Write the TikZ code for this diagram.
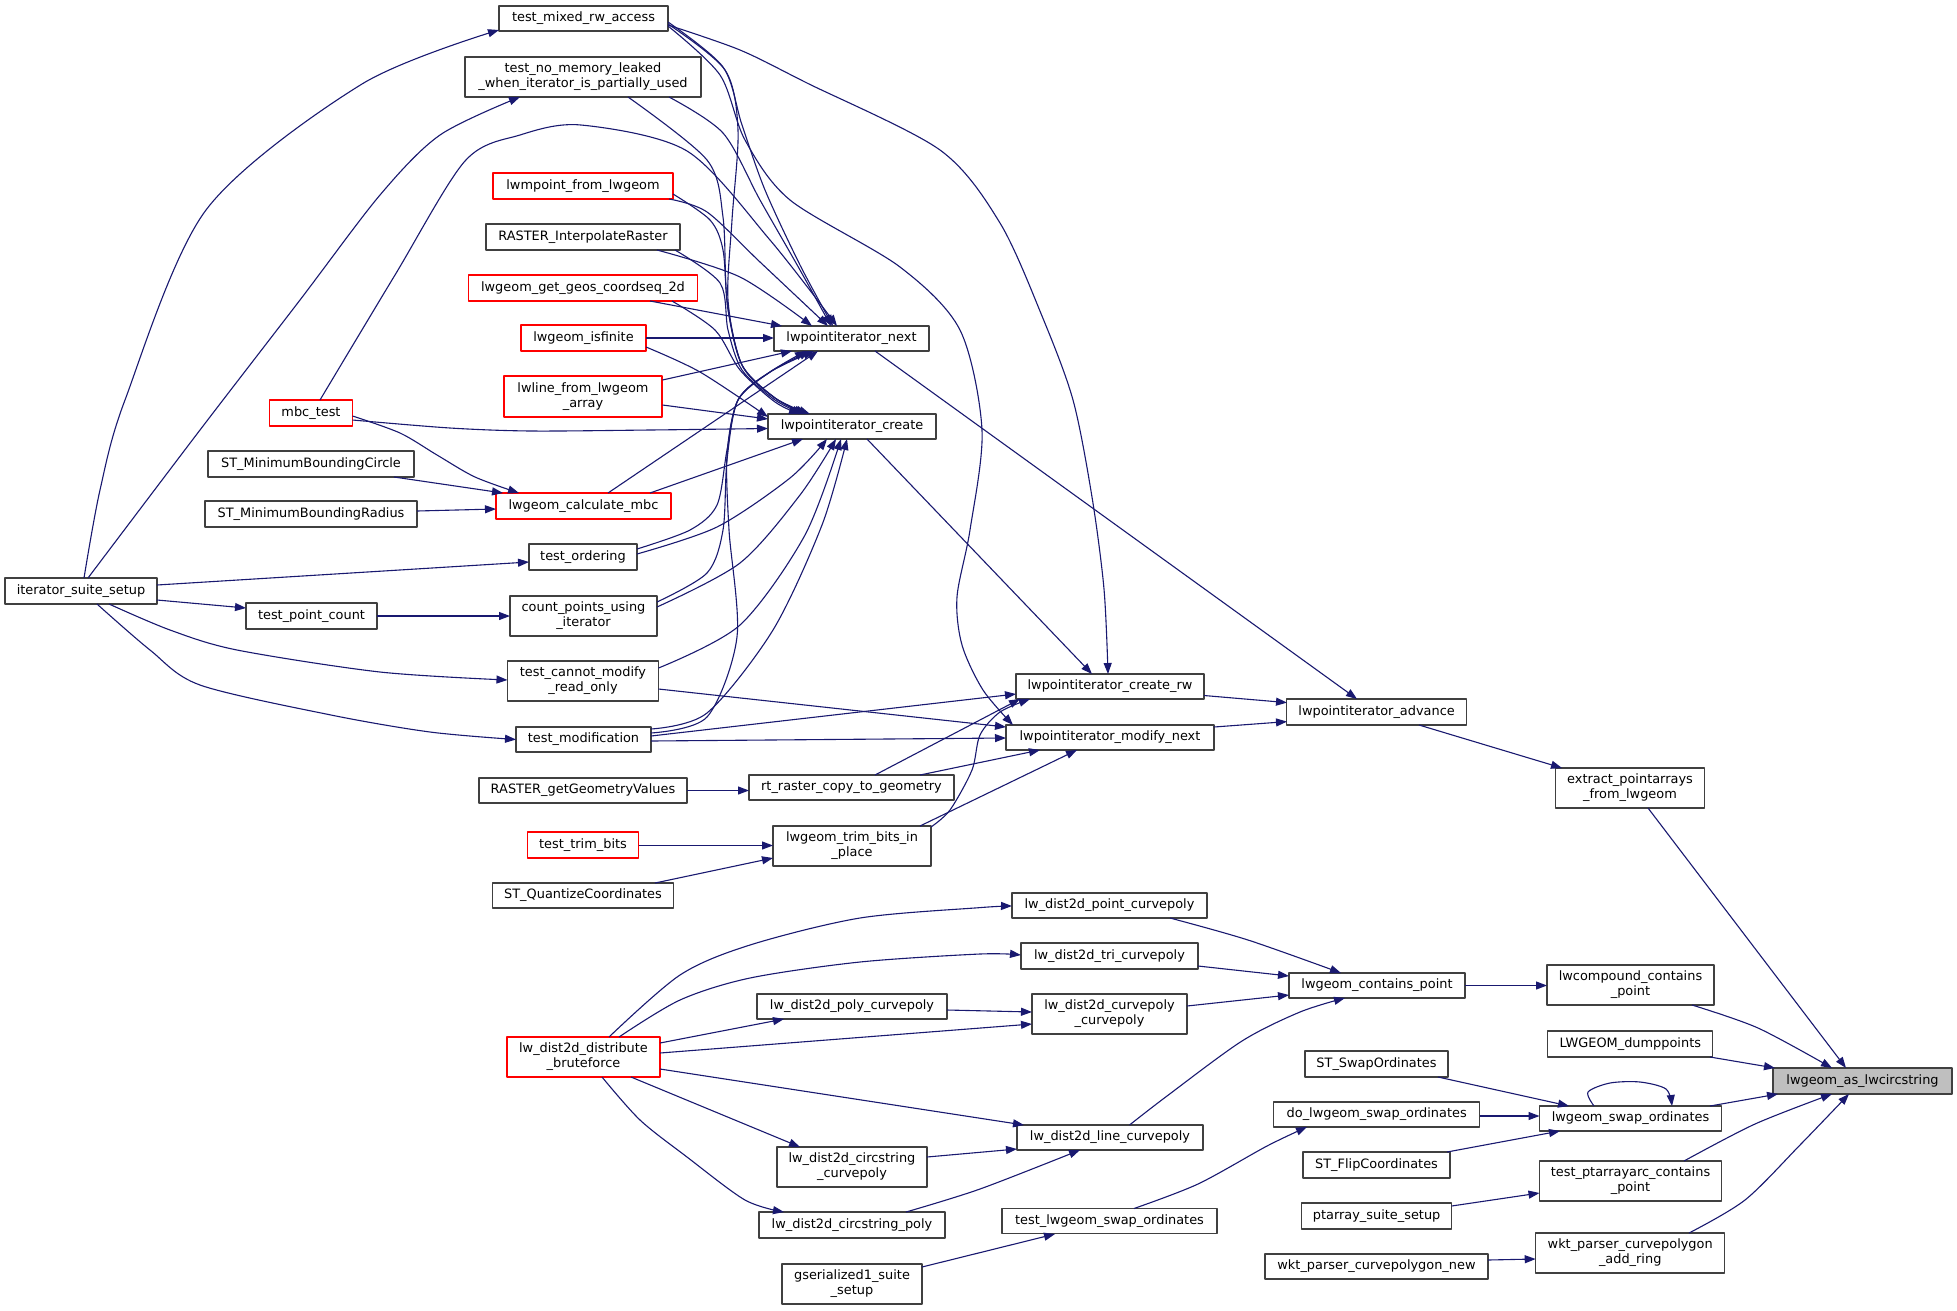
\documentclass[tikz,border=0pt]{standalone}
\usepackage{fontspec}
\setmainfont{DejaVu Sans}
\usetikzlibrary{arrows.meta,calc}
\definecolor{edgec}{HTML}{191970}
\definecolor{nbord}{HTML}{404040}
\definecolor{rootfill}{HTML}{BFBFBF}
\begin{document}
\begin{tikzpicture}[x=1pt,y=-1pt,line join=round,
  nd/.style={draw=nbord,line width=1.2pt,fill=white,inner sep=0pt,align=center,
    font=\fontsize{12.9}{15}\selectfont,text=black},
  rd/.style={nd,draw=red},
  sz/.style 2 args={minimum width=#1pt,minimum height=#2pt},
  e/.style={draw=edgec,line width=1.1pt,-{Triangle[length=11pt,width=8pt]}}]
\useasboundingbox[fill=white] (0,0) rectangle (1957,1310);
% column 3
\node[nd,sz={169}{25}] (tmrw) at (583.5,18.5) {test\_mixed\_rw\_access};
\node[nd,sz={236}{40}] (tnml) at (583,77) {test\_no\_memory\_leaked\\\_when\_iterator\_is\_partially\_used};
\node[rd,sz={180}{26}] (lwmp) at (583,186) {lwmpoint\_from\_lwgeom};
\node[nd,sz={194}{26}] (rir) at (583,237) {RASTER\_InterpolateRaster};
\node[rd,sz={229}{26}] (ggc) at (583,288) {lwgeom\_get\_geos\_coordseq\_2d};
\node[rd,sz={125}{26}] (isf) at (583.5,338) {lwgeom\_isfinite};
\node[rd,sz={158}{41}] (lfla) at (583,396.5) {lwline\_from\_lwgeom\\\_array};
\node[rd,sz={175}{26}] (lcm) at (583.5,506) {lwgeom\_calculate\_mbc};
\node[nd,sz={108}{26}] (tord) at (583,557) {test\_ordering};
\node[nd,sz={147}{40}] (cpi) at (583.5,616) {count\_points\_using\\\_iterator};
\node[nd,sz={151}{40}] (tcm) at (583,681) {test\_cannot\_modify\\\_read\_only};
\node[nd,sz={135}{25}] (tmod) at (583.5,739.5) {test\_modification};
\node[nd,sz={208}{25}] (rggv) at (583,790.5) {RASTER\_getGeometryValues};
\node[rd,sz={111}{26}] (ttb) at (583,845) {test\_trim\_bits};
\node[nd,sz={181}{25}] (sqc) at (583,895.5) {ST\_QuantizeCoordinates};
\node[rd,sz={153}{40}] (dbf) at (583.5,1057) {lw\_dist2d\_distribute\\\_bruteforce};
% columns 1-2
\node[nd,sz={152}{26}] (iss) at (81,591) {iterator\_suite\_setup};
\node[rd,sz={83}{26}] (mbct) at (311,413) {mbc\_test};
\node[nd,sz={206}{26}] (smbc) at (311,464) {ST\_MinimumBoundingCircle};
\node[nd,sz={212}{26}] (smbr) at (311,514) {ST\_MinimumBoundingRadius};
\node[nd,sz={131}{26}] (tpc) at (311.5,616) {test\_point\_count};
% column 4
\node[nd,sz={155}{25}] (N) at (851.5,338.5) {lwpointiterator\_next};
\node[nd,sz={168}{25}] (C) at (852,426.5) {lwpointiterator\_create};
\node[nd,sz={205}{25}] (rrcg) at (851.5,787.5) {rt\_raster\_copy\_to\_geometry};
\node[nd,sz={158}{40}] (ltb) at (852,846) {lwgeom\_trim\_bits\_in\\\_place};
\node[nd,sz={190}{25}] (dpcp) at (852,1006.5) {lw\_dist2d\_poly\_curvepoly};
\node[nd,sz={150}{40}] (dccp) at (852,1167) {lw\_dist2d\_circstring\\\_curvepoly};
\node[nd,sz={186}{26}] (dcp) at (852,1225) {lw\_dist2d\_circstring\_poly};
\node[nd,sz={140}{40}] (gss) at (852,1284) {gserialized1\_suite\\\_setup};
% column 5
\node[nd,sz={188}{25}] (W) at (1110,686.5) {lwpointiterator\_create\_rw};
\node[nd,sz={208}{25}] (M) at (1110,737.5) {lwpointiterator\_modify\_next};
\node[nd,sz={195}{25}] (dpc) at (1109.5,905.5) {lw\_dist2d\_point\_curvepoly};
\node[nd,sz={177}{26}] (dtc) at (1109.5,956) {lw\_dist2d\_tri\_curvepoly};
\node[nd,sz={155}{40}] (dcc) at (1109.5,1014) {lw\_dist2d\_curvepoly\\\_curvepoly};
\node[nd,sz={186}{25}] (dlc) at (1110,1137.5) {lw\_dist2d\_line\_curvepoly};
\node[nd,sz={215}{25}] (tlso) at (1109.5,1221) {test\_lwgeom\_swap\_ordinates};
% column 6
\node[nd,sz={180}{26}] (A) at (1376.6,712) {lwpointiterator\_advance};
\node[nd,sz={176}{25}] (gcp) at (1377,985.5) {lwgeom\_contains\_point};
\node[nd,sz={143}{26}] (sso) at (1376.5,1064) {ST\_SwapOrdinates};
\node[nd,sz={206}{25}] (dlso) at (1376.7,1114.5) {do\_lwgeom\_swap\_ordinates};
\node[nd,sz={147}{26}] (sfc) at (1376.5,1165) {ST\_FlipCoordinates};
\node[nd,sz={150}{26}] (pss) at (1376.6,1216) {ptarray\_suite\_setup};
\node[nd,sz={223}{25}] (wkn) at (1376.5,1266.5) {wkt\_parser\_curvepolygon\_new};
% column 7
\node[nd,sz={149}{40}] (epa) at (1630,788) {extract\_pointarrays\\\_from\_lwgeom};
\node[nd,sz={167}{40}] (lccp) at (1630.5,985) {lwcompound\_contains\\\_point};
\node[nd,sz={165}{26}] (ldp) at (1630.3,1044) {LWGEOM\_dumppoints};
\node[nd,sz={182}{25}] (S) at (1630.5,1118.5) {lwgeom\_swap\_ordinates};
\node[nd,sz={182}{40}] (tpac) at (1630.5,1181) {test\_ptarrayarc\_contains\\\_point};
\node[nd,sz={189}{40}] (wka) at (1630.2,1253) {wkt\_parser\_curvepolygon\\\_add\_ring};
% root
\node[nd,fill=rootfill,sz={179}{26}] (R) at (1862.5,1081) {lwgeom\_as\_lwcircstring};

% ---- edges: iterator_suite_setup
\draw[e] plot[smooth] coordinates {($(iss)+(3,-13)$) (100,490) (125,400) (206,210) (362,84) ($(tmrw)+(-84.5,11.5)$)};
\draw[e] plot[smooth] coordinates {($(iss)+(7,-13)$) (200,430) (300,300) (380,195) (440,135) ($(tnml)+(-63,20)$)};
\draw[e] ($(iss)+(76,-6)$) -- ($(tord)+(-54,5)$);
\draw[e] ($(iss)+(76,9)$) -- ($(tpc)+(-65.5,-8)$);
\draw[e] plot[smooth] coordinates {($(iss)+(28,13)$) (170,630) (237,650) (380,672) ($(tcm)+(-75.5,-1)$)};
\draw[e] plot[smooth] coordinates {($(iss)+(16,13)$) (150,650) (200,685) (331,715) (430,732) ($(tmod)+(-67.5,0)$)};
\draw[e] ($(tpc)+(65.5,0)$) -- ($(cpi)+(-73.5,0)$);
\draw[e] ($(smbc)+(83,13)$) -- ($(lcm)+(-80.5,-13)$);
\draw[e] ($(smbr)+(106,-3)$) -- ($(lcm)+(-87.5,3)$);
% mbc_test
\draw[e] plot[smooth] coordinates {($(mbct)+(41.5,3)$) (400,433) (437,455) (475,477) ($(lcm)+(-64.5,-13)$)};
\draw[e] plot[smooth] coordinates {($(mbct)+(41.5,7)$) (450,428) (531,431) (650,430) ($(C)+(-84,2)$)};
\draw[e] plot[smooth] coordinates {($(mbct)+(9,-13)$) (395,275) (465,161) (520,135) (581,125) (687,151) (770,240) ($(N)+(-14.5,-12.5)$)};
% test_mixed_rw_access
\draw[e] plot[smooth] coordinates {($(tmrw)+(84.5,3.5)$) (723,67) (742,125) (765,190) (800,265) ($(N)+(-18.5,-12.5)$)};
\draw[e] plot[smooth] coordinates {($(tmrw)+(84.5,5.5)$) (725,70) (738,130) (732,220) (728,300) (742,365) (775,398) ($(C)+(-42,-12.5)$)};
\draw[e] plot[smooth] coordinates {($(tmrw)+(84.5,7.5)$) (720,75) (745,140) (790,200) (900,267) (960,330) (982,430) (970,530) (957,597) (962,645) (983,690) ($(M)+(-97,-12.5)$)};
\draw[e] plot[smooth] coordinates {($(tmrw)+(84.5,6.5)$) (740,50) (807,83) (940,150) (1000,223) (1042,316) (1073,400) (1092,497) (1104,589) ($(W)+(-2,-12.5)$)};
% test_no_memory_leaked
\draw[e] plot[smooth] coordinates {($(tnml)+(86,20)$) (723,133) (760,200) (800,270) ($(N)+(-20.5,-12.5)$)};
\draw[e] plot[smooth] coordinates {($(tnml)+(45,20)$) (707,160) (723,217) (727,300) (742,365) (775,398) ($(C)+(-45,-12.5)$)};
% lwmpoint_from_lwgeom
\draw[e] plot[smooth] coordinates {($(lwmp)+(86,13)$) (707,212) (760,262) ($(N)+(-23.5,-12.5)$)};
\draw[e] plot[smooth] coordinates {($(lwmp)+(90,8)$) (710,220) (723,250) (728,310) (742,365) (775,398) ($(C)+(-47,-12.5)$)};
% RASTER_InterpolateRaster
\draw[e] plot[smooth] coordinates {($(rir)+(74,13)$) (740,277) ($(N)+(-39.5,-12.5)$)};
\draw[e] plot[smooth] coordinates {($(rir)+(92,13)$) (720,283) (728,330) (742,370) (775,400) ($(C)+(-49,-12.5)$)};
% lwgeom_get_geos_coordseq_2d
\draw[e] ($(ggc)+(67,13)$) -- ($(N)+(-69.5,-12.5)$);
\draw[e] plot[smooth] coordinates {($(ggc)+(89,13)$) (715,330) (740,370) (775,402) ($(C)+(-52,-12.5)$)};
% lwgeom_isfinite
\draw[e] ($(isf)+(62.5,0)$) -- ($(N)+(-77.5,-0.5)$);
\draw[e] plot[smooth] coordinates {($(isf)+(62.5,9)$) (700,372) ($(C)+(-84,-9.5)$)};
% lwline_from_lwgeom_array
\draw[e] ($(lfla)+(79.5,-16.5)$) -- ($(N)+(-59.5,12.5)$);
\draw[e] ($(lfla)+(79.5,8.5)$) -- ($(C)+(-84,-7.5)$);
% lwgeom_calculate_mbc
\draw[e] ($(lcm)+(24.5,-13)$) -- ($(N)+(-33.5,12.5)$);
\draw[e] ($(lcm)+(66.5,-13)$) -- ($(C)+(-49,12.5)$);
% test_ordering
\draw[e] plot[smooth] coordinates {($(tord)+(54,-8)$) (690,530) (717,505) (727,450) (738,400) (770,372) ($(N)+(-45.5,12.5)$)};
\draw[e] plot[smooth] coordinates {($(tord)+(54,-3)$) (717,527) (790,478) ($(C)+(-25,12.5)$)};
% count_points_using_iterator
\draw[e] plot[smooth] coordinates {($(cpi)+(73.5,-14)$) (707,573) (723,530) (727,460) (738,400) (770,372) ($(N)+(-41.5,12.5)$)};
\draw[e] plot[smooth] coordinates {($(cpi)+(73.5,-9)$) (740,563) (800,495) ($(C)+(-16,12.5)$)};
% test_cannot_modify_read_only
\draw[e] plot[smooth] coordinates {($(tcm)+(75.5,-13)$) (740,625) (805,535) ($(C)+(-11,12.5)$)};
\draw[e] ($(tcm)+(75.5,8)$) -- ($(M)+(-104,-10.5)$);
% test_modification
\draw[e] plot[smooth] coordinates {($(tmod)+(67.5,-10.5)$) (707,713) (773,630) (822,525) ($(C)+(-5,12.5)$)};
\draw[e] plot[smooth] coordinates {($(tmod)+(67.5,-6.5)$) (707,717) (737,637) (729,530) (727,455) (738,400) (770,372) ($(N)+(-37.5,12.5)$)};
\draw[e] ($(tmod)+(67.5,-3.5)$) -- ($(W)+(-94,7.5)$);
\draw[e] ($(tmod)+(67.5,1.5)$) -- ($(M)+(-104,0.5)$);
% raster, trim bits
\draw[e] ($(rggv)+(104,0)$) -- ($(rrcg)+(-102.5,3)$);
\draw[e] ($(rrcg)+(23.5,-12.5)$) -- ($(W)+(-90,12.5)$);
\draw[e] ($(rrcg)+(68.5,-12.5)$) -- ($(M)+(-70,12.5)$);
\draw[e] ($(ttb)+(55.5,0.5)$) -- ($(ltb)+(-79,-0.5)$);
\draw[e] ($(sqc)+(72,-12.5)$) -- ($(ltb)+(-79,12)$);
\draw[e] plot[smooth] coordinates {($(ltb)+(79,-19)$) (950,810) (972,770) (980,735) (1000,712) ($(W)+(-80,12.5)$)};
\draw[e] ($(ltb)+(68,-20)$) -- ($(M)+(-33,12.5)$);
% iterator core
\draw[e] ($(C)+(15,12.5)$) -- ($(W)+(-18,-12.5)$);
\draw[e] ($(N)+(23.5,12.5)$) -- ($(A)+(-19.6,-13)$);
\draw[e] ($(W)+(94,9)$) -- ($(A)+(-89.6,-9.4)$);
\draw[e] ($(M)+(104,-10.5)$) -- ($(A)+(-89.6,9.6)$);
\draw[e] ($(A)+(42.4,13)$) -- ($(epa)+(-68,-20)$);
% into root
\draw[e] ($(epa)+(18,20)$) -- ($(R)+(-16.5,-13)$);
\draw[e] plot[smooth] coordinates {($(lccp)+(61.5,20)$) (1758,1028) ($(R)+(-30.5,-13)$)};
\draw[e] ($(ldp)+(79.7,13)$) -- ($(R)+(-87.5,-13)$);
\draw[e] ($(S)+(79.5,-12.5)$) -- ($(R)+(-84.5,13)$);
\draw[e] plot[smooth] coordinates {($(tpac)+(53.5,-20)$) (1755,1124) ($(R)+(-30.5,13)$)};
\draw[e] plot[smooth] coordinates {($(wka)+(58.8,-20)$) (1745,1200) (1800,1145) ($(R)+(-13.5,13)$)};
% swap ordinates
\draw[e] plot[smooth] coordinates {($(S)+(-36.5,-12.5)$) (1588,1092) (1610,1083) (1640,1082) (1666,1089) ($(S)+(41.5,-12.5)$)};
\draw[e] ($(sso)+(61.5,13)$) -- ($(S)+(-61.5,-12.5)$);
\draw[e] ($(dlso)+(103.3,1.5)$) -- ($(S)+(-91,-2.5)$);
\draw[e] ($(sfc)+(70.5,-13)$) -- ($(S)+(-70.5,12.5)$);
\draw[e] ($(pss)+(75,-10)$) -- ($(tpac)+(-91,12)$);
\draw[e] ($(wkn)+(111.5,-6.5)$) -- ($(wka)+(-94.5,6)$);
\draw[e] plot[smooth] coordinates {($(tlso)+(24.5,-12.5)$) (1198,1184) (1267,1146) ($(dlso)+(-69.7,12.5)$)};
\draw[e] ($(gss)+(70,-17)$) -- ($(tlso)+(-54.5,13)$);
% contains point
\draw[e] ($(gcp)+(88,0)$) -- ($(lccp)+(-83.5,0.5)$);
\draw[e] plot[smooth] coordinates {($(dpc)+(60.5,12.5)$) (1248,940) ($(gcp)+(-36,-12.5)$)};
\draw[e] ($(dtc)+(88.5,10)$) -- ($(gcp)+(-88,-9.5)$);
\draw[e] ($(dcc)+(77.5,-8)$) -- ($(gcp)+(-88,9.5)$);
\draw[e] plot[smooth] coordinates {($(dlc)+(19.5,-12.5)$) (1167,1096) (1242,1041) (1300,1012) ($(gcp)+(-32,12.5)$)};
% distribute bruteforce
\draw[e] plot[smooth] coordinates {($(dbf)+(25.5,-20)$) (680,975) (750,945) (860,918) (980,907.6) ($(dpc)+(-97.5,0.5)$)};
\draw[e] plot[smooth] coordinates {($(dbf)+(35.5,-20)$) (680,1000) (750,978) (860,962) (980,954) ($(dtc)+(-88.5,-1)$)};
\draw[e] ($(dbf)+(76.5,-14)$) -- ($(dpcp)+(-68,12.5)$);
\draw[e] ($(dpcp)+(95,3.5)$) -- ($(dcc)+(-77.5,-2)$);
\draw[e] ($(dbf)+(76.5,-4)$) -- ($(dcc)+(-77.5,10)$);
\draw[e] ($(dbf)+(76.5,12)$) -- ($(dlc)+(-86,-12.5)$);
\draw[e] ($(dbf)+(47.5,20)$) -- ($(dccp)+(-52,-20)$);
\draw[e] plot[smooth] coordinates {($(dbf)+(18.5,20)$) (640,1120) (687,1157) (745,1200) ($(dcp)+(-68,-13)$)};
\draw[e] ($(dccp)+(75,-10)$) -- ($(dlc)+(-93,11.5)$);
\draw[e] plot[smooth] coordinates {($(dcp)+(54,-13)$) (980,1189) ($(dlc)+(-30,12.5)$)};
\end{tikzpicture}
\end{document}
